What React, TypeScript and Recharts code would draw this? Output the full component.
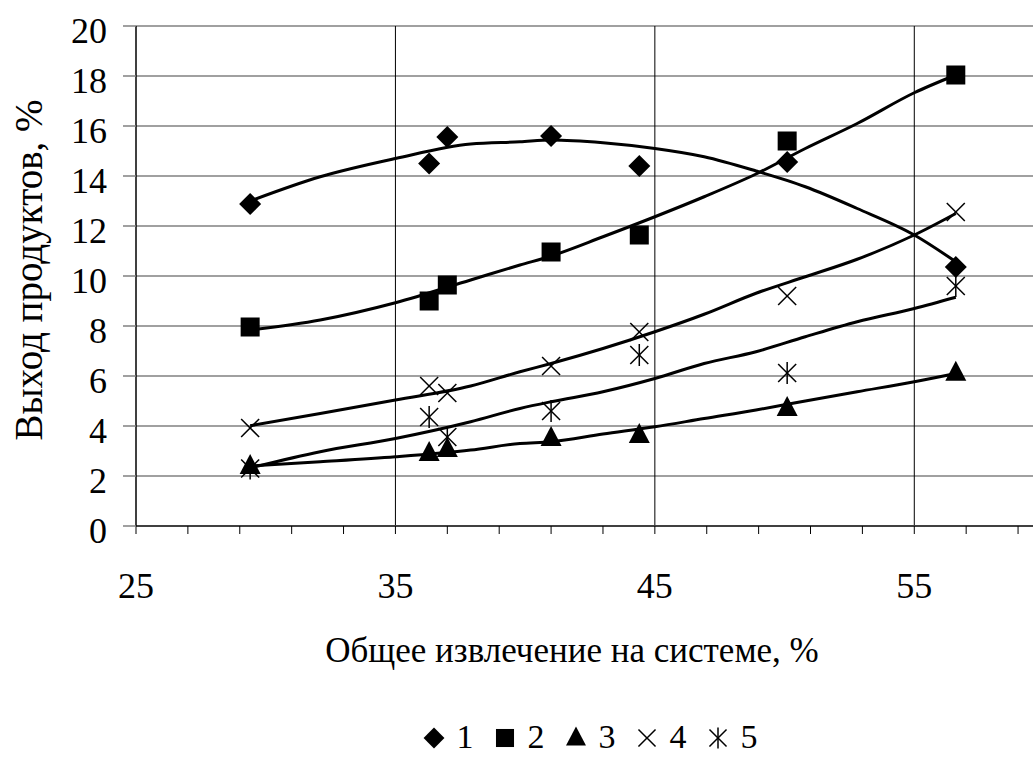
import { ScatterChart, Scatter, XAxis, YAxis, CartesianGrid, Legend, Label } from "recharts";

const FONT = "Liberation Serif";

// measured points: x = total extraction on the system, %
const extraction = [29.4, 36.3, 37.0, 41.0, 44.4, 50.1, 56.6];
const yield1 = [12.88, 14.5, 15.56, 15.6, 14.4, 14.56, 10.36];
const yield2 = [7.96, 9.0, 9.64, 10.96, 11.64, 15.4, 18.04];
const yield3 = [2.4, 2.92, 3.08, 3.52, 3.64, 4.72, 6.13];
const yield4 = [3.92, 5.6, 5.32, 6.4, 7.76, 9.2, 12.56];
const yield5 = [2.3, 4.36, 3.56, 4.6, 6.84, 6.12, 9.6];

// trend lines
const trendX = [29.4, 32.1, 35, 37.9, 39.8, 41, 43, 45, 46.9, 48.9, 50.8, 52.8, 55, 56.6];
const trend1 = [13.0, 13.97, 14.7, 15.28, 15.37, 15.44, 15.33, 15.1, 14.77, 14.2, 13.57, 12.7, 11.64, 10.57];
const trend2 = [7.84, 8.24, 8.93, 9.84, 10.44, 10.8, 11.57, 12.37, 13.17, 14.08, 15.1, 16.1, 17.33, 18.04];
const trend3 = [2.4, 2.57, 2.77, 3.04, 3.3, 3.37, 3.68, 3.97, 4.3, 4.64, 5.0, 5.37, 5.77, 6.1];
const trend4 = [4.01, 4.5, 5.04, 5.6, 6.17, 6.5, 7.1, 7.77, 8.47, 9.31, 9.97, 10.67, 11.64, 12.5];
const trend5 = [2.32, 2.97, 3.5, 4.17, 4.7, 4.97, 5.37, 5.9, 6.5, 6.97, 7.57, 8.17, 8.7, 9.15];

const xTicks = [25, 27, 29, 31, 33, 35, 37, 39, 41, 43, 45, 47, 49, 51, 53, 55, 57, 59];
const xLabels = [25, 35, 45, 55];
const yTicks = [0, 2, 4, 6, 8, 10, 12, 14, 16, 18, 20];
const seriesNames = ["1", "2", "3", "4", "5"];

const toPoints = (xs: number[], ys: number[]) => xs.map((x, i) => ({ x, y: ys[i] }));

type Kind = "diamond" | "square" | "triangle" | "cross" | "star";

function Marker({ kind, cx, cy, s = 1 }: { kind: Kind; cx: number; cy: number; s?: number }) {
  if (kind === "diamond") {
    const r = 11 * s;
    return <polygon points={`${cx},${cy - r} ${cx + r},${cy} ${cx},${cy + r} ${cx - r},${cy}`} fill="#000" />;
  }
  if (kind === "square") {
    const h = 9.5 * s;
    return <rect x={cx - h} y={cy - h} width={2 * h} height={2 * h} fill="#000" />;
  }
  if (kind === "triangle") {
    const w = 10.5 * s;
    return <polygon points={`${cx},${cy - 12 * s} ${cx + w},${cy + 8 * s} ${cx - w},${cy + 8 * s}`} fill="#000" />;
  }
  const d = 9 * s;
  return (
    <g stroke="#000" strokeWidth={1.5}>
      <line x1={cx - d} y1={cy - d} x2={cx + d} y2={cy + d} />
      <line x1={cx - d} y1={cy + d} x2={cx + d} y2={cy - d} />
      {kind === "star" && <line x1={cx} y1={cy - 11 * s} x2={cx} y2={cy + 11 * s} />}
    </g>
  );
}

const kinds: Kind[] = ["diamond", "square", "triangle", "cross", "star"];

function LegendRow() {
  return (
    <div
      style={{
        display: "flex",
        justifyContent: "center",
        alignItems: "center",
        height: 40,
        paddingLeft: 136,
        fontFamily: FONT,
        fontSize: 34,
        color: "#000",
      }}
    >
      {kinds.map((k, i) => (
        <span key={k} style={{ display: "flex", alignItems: "center", marginRight: i < 4 ? 20 : 0 }}>
          <svg width={22} height={24}>
            <Marker kind={k} cx={11} cy={13} s={0.95} />
          </svg>
          <span style={{ marginLeft: 12, lineHeight: "40px" }}>{seriesNames[i]}</span>
        </span>
      ))}
    </div>
  );
}

const noDot = () => <g />;

export default function App() {
  const series = [yield1, yield2, yield3, yield4, yield5];
  const trends = [trend1, trend2, trend3, trend4, trend5];

  return (
    <div
      style={{
        position: "absolute",
        left: 0,
        top: 0,
        width: 1033,
        height: 760,
        overflow: "hidden",
        background: "#fff",
        fontFamily: FONT,
      }}
    >
      <ScatterChart
        width={1044}
        height={760}
        margin={{ top: 26, right: 0, left: 0, bottom: 3 }}
        style={{ fontFamily: FONT }}
      >
        <CartesianGrid vertical={false} horizontalValues={yTicks} stroke="#808080" strokeWidth={1.5} />
        <CartesianGrid horizontal={false} verticalValues={[35, 45, 55]} stroke="#000" strokeWidth={1} />
        <XAxis
          type="number"
          dataKey="x"
          domain={[25, 60]}
          ticks={xTicks}
          interval={0}
          tickFormatter={(v: number) => (xLabels.includes(v) ? String(v) : "")}
          height={191}
          tickSize={8}
          tickMargin={38}
          axisLine={{ stroke: "#404040", strokeWidth: 2 }}
          tickLine={{ stroke: "#000", strokeWidth: 1 }}
          tick={{ fontSize: 36, fill: "#000", fontFamily: FONT }}
        >
          <Label
            content={({ viewBox }: any) => (
              <text
                x={viewBox.x + viewBox.width / 2 - 18}
                y={viewBox.y + 136}
                textAnchor="middle"
                fontFamily={FONT}
                fontSize={35}
                fill="#000"
              >
                Общее извлечение на системе, %
              </text>
            )}
          />
        </XAxis>
        <YAxis
          type="number"
          dataKey="y"
          domain={[0, 20]}
          ticks={yTicks}
          interval={0}
          width={136}
          tickSize={13}
          tickMargin={16}
          axisLine={{ stroke: "#000", strokeWidth: 1.5 }}
          tickLine={{ stroke: "#808080", strokeWidth: 1.5 }}
          tick={{ fontSize: 36, fill: "#000", fontFamily: FONT, dy: 4 }}
        >
          <Label
            content={({ viewBox }: any) => {
              const cy = viewBox.y + viewBox.height / 2 - 6;
              return (
                <text
                  x={42}
                  y={cy}
                  transform={`rotate(-90 42 ${cy})`}
                  textAnchor="middle"
                  fontFamily={FONT}
                  fontSize={39}
                  fill="#000"
                >
                  Выход продуктов, %
                </text>
              );
            }}
          />
        </YAxis>
        <Legend verticalAlign="bottom" wrapperStyle={{ height: 40 }} content={() => <LegendRow />} />
        {trends.map((t, i) => (
          <Scatter
            key={`trend${i}`}
            data={toPoints(trendX, t)}
            line={{ stroke: "#000", strokeWidth: 3 }}
            lineJointType="monotoneX"
            shape={noDot}
            legendType="none"
            isAnimationActive={false}
          />
        ))}
        {series.map((s, i) => (
          <Scatter
            key={`series${i}`}
            name={seriesNames[i]}
            data={toPoints(extraction, s)}
            shape={(p: any) => <Marker kind={kinds[i]} cx={p.cx} cy={p.cy} />}
            isAnimationActive={false}
          />
        ))}
      </ScatterChart>
    </div>
  );
}
